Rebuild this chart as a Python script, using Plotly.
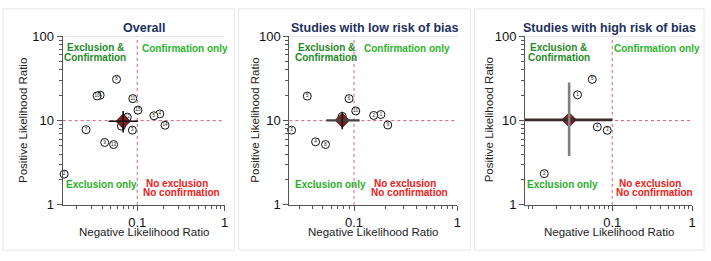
import plotly.graph_objects as go
import math

W, H = 711, 261

# ---------------- data ----------------
overall_labels = [str(i) for i in range(1, 16)]
overall_nlr = [0.0377, 0.0146, 0.088, 0.181, 0.155, 0.066, 0.026, 0.058, 0.0425, 0.0348, 0.089, 0.077, 0.0537, 0.208, 0.102]
overall_plr = [20.0, 2.32, 7.7, 12.0, 11.4, 8.6, 7.8, 30.8, 5.5, 19.6, 18.2, 11.0, 5.2, 8.8, 13.3]

low_labels = [str(i) for i in range(1, 11)]
low_nlr = [0.182, 0.155, 0.0249, 0.0425, 0.0353, 0.0895, 0.077, 0.053, 0.212, 0.104]
low_plr = [11.8, 11.5, 7.7, 5.6, 19.5, 18.2, 11.2, 5.2, 8.86, 13.0]

high_labels = [str(i) for i in range(1, 6)]
high_nlr = [0.0368, 0.0141, 0.0866, 0.065, 0.0562]
high_plr = [20.2, 2.35, 7.67, 8.4, 30.8]

# pooled summary points and confidence intervals
summary_nlr = [0.069, 0.077, 0.0289]
summary_plr = [9.8, 10.07, 10.2]
summary_nlr_ci = [[0.047, 0.102], [0.054, 0.1135], [0.006, 0.1]]
summary_plr_ci = [[7.2, 13.0], [7.9, 12.7], [3.8, 28.2]]

panel_titles = ["Overall", "Studies with low risk of bias", "Studies with high risk of bias"]
nlr_threshold = 0.1
plr_threshold = 10
x_tick_vals = [0.1, 1]
x_tick_text = ["0.1", "1"]
y_tick_vals = [1, 10, 100]
y_tick_text = ["1", "10", "100"]

# ---------------- layout geometry (pixels) ----------------
def px(x):
    return x / W

def py(y):
    return 1 - y / H

panel_geo = [
    dict(x0=63, x1=226, xmin=0.01405, box=(3, 236), title_x=145, yt_x=23,
         ec_x=96, co_x=186, eo_x=102, ne_x=178.5, nc_x=183),
    dict(x0=291, x1=460, xmin=0.0237, box=(240, 473), title_x=377, yt_x=257,
         ec_x=328, co_x=409.7, eo_x=332.5, ne_x=407, nc_x=411.7),
    dict(x0=528, x1=696, xmin=0.0081, box=(477, 708), title_x=612.7, yt_x=492,
         ec_x=562, co_x=661, eo_x=566, ne_x=654, nc_x=658),
]
Y_TOP, Y_BOT = 31, 210

studies = [
    (overall_labels, overall_nlr, overall_plr),
    (low_labels, low_nlr, low_plr),
    (high_labels, high_nlr, high_plr),
]

hci_colors = ["#111111", "#444444", "#3b2828"]
vci_colors = ["#111111", "#151515", "#808080"]
hci_widths = [1.6, 2.2, 2.6]
vci_widths = [1.6, 1.6, 2.6]

FONT = "Arial, Liberation Sans, Helvetica, sans-serif"
ref_color = "#d4607a"

fig = go.Figure()
layout_axes = {}
annotations = []
shapes = []

x_minor = [k * 10 ** e for e in (-3, -2, -1) for k in range(2, 10)] + [0.01]
y_minor = [k * 10 ** e for e in (0, 1) for k in range(2, 10)]

for i in range(3):
    g = panel_geo[i]
    sfx = "" if i == 0 else str(i + 1)
    xa, ya = "x" + sfx, "y" + sfx
    labels, nlr, plr = studies[i]

    # reference lines
    fig.add_trace(go.Scatter(x=[nlr_threshold, nlr_threshold], y=[1, 100], mode="lines",
                             line=dict(color=ref_color, width=1, dash="dot"),
                             xaxis=xa, yaxis=ya, showlegend=False, hoverinfo="skip"))
    fig.add_trace(go.Scatter(x=[g["xmin"], 1], y=[plr_threshold, plr_threshold], mode="lines",
                             line=dict(color=ref_color, width=1, dash="dot"),
                             xaxis=xa, yaxis=ya, showlegend=False, hoverinfo="skip"))
    # individual studies
    fig.add_trace(go.Scatter(x=nlr, y=plr, mode="markers+text", text=labels,
                             textposition="middle center",
                             textfont=dict(size=4.5, color="#111111", family=FONT),
                             marker=dict(size=8, color="white", line=dict(color="#111111", width=1)),
                             xaxis=xa, yaxis=ya, showlegend=False, cliponaxis=False))
    # pooled diamond
    fig.add_trace(go.Scatter(x=[summary_nlr[i]], y=[summary_plr[i]], mode="markers",
                             marker=dict(symbol="diamond", size=11, color="#7e2226",
                                         line=dict(color="#5a1417", width=1)),
                             xaxis=xa, yaxis=ya, showlegend=False))
    # confidence intervals
    fig.add_trace(go.Scatter(x=summary_nlr_ci[i], y=[summary_plr[i]] * 2, mode="lines",
                             line=dict(color=hci_colors[i], width=hci_widths[i]),
                             xaxis=xa, yaxis=ya, showlegend=False))
    fig.add_trace(go.Scatter(x=[summary_nlr[i]] * 2, y=summary_plr_ci[i], mode="lines",
                             line=dict(color=vci_colors[i], width=vci_widths[i]),
                             xaxis=xa, yaxis=ya, showlegend=False))

    layout_axes["xaxis" + sfx] = dict(
        type="log", range=[math.log10(g["xmin"]), 0],
        domain=[px(g["x0"]), px(g["x1"])], anchor=ya,
        showgrid=False, zeroline=False, showline=True, linecolor="#555555", linewidth=1,
        ticks="outside", ticklen=5, tickcolor="#555555", tickwidth=1,
        tickvals=x_tick_vals, ticktext=x_tick_text,
        tickfont=dict(family=FONT, size=13, color="#111111"),
        minor=dict(ticks="outside", ticklen=3, tickcolor="#555555", tickwidth=1,
                   tickvals=x_minor, showgrid=False),
    )
    layout_axes["yaxis" + sfx] = dict(
        type="log", range=[0, 2],
        domain=[py(Y_BOT), py(Y_TOP)], anchor=xa,
        showgrid=False, zeroline=False, showline=True, linecolor="#555555", linewidth=1,
        ticks="outside", ticklen=5, tickcolor="#555555", tickwidth=1,
        tickvals=y_tick_vals, ticktext=y_tick_text,
        tickfont=dict(family=FONT, size=13, color="#111111"),
        minor=dict(ticks="outside", ticklen=3, tickcolor="#555555", tickwidth=1,
                   tickvals=y_minor, showgrid=False),
    )

    # panel frame and faint top line
    shapes.append(dict(type="rect", xref="paper", yref="paper",
                       x0=px(g["box"][0]), x1=px(g["box"][1]), y0=py(258), y1=py(2),
                       line=dict(color="#e6e6e6", width=1), layer="below"))
    shapes.append(dict(type="line", xref=xa + " domain", yref=ya + " domain",
                       x0=0, x1=1, y0=1, y1=1, line=dict(color="#e2e2e2", width=1), layer="below"))

    # titles
    annotations.append(dict(text="<b>" + panel_titles[i] + "</b>", xref="paper", yref="paper",
                            x=px(g["title_x"]), y=py(22.5), xanchor="center", yanchor="middle",
                            showarrow=False, font=dict(family=FONT, size=12.5, color="#22305e")))
    annotations.append(dict(text="Negative Likelihood Ratio", xref="paper", yref="paper",
                            x=px((g["x0"] + g["x1"]) / 2), y=py(238.5), xanchor="center",
                            yanchor="middle", showarrow=False,
                            font=dict(family=FONT, size=11.5, color="#222222")))
    annotations.append(dict(text="Positive Likelihood Ratio", xref="paper", yref="paper",
                            x=px(g["yt_x"]), y=py(120), xanchor="center", yanchor="middle",
                            textangle=-90, showarrow=False,
                            font=dict(family=FONT, size=11.5, color="#222222")))
    # quadrant labels
    qfont = lambda c: dict(family=FONT, size=10, color=c)
    for txt, cx, cy, col in [
        ("Exclusion &", g["ec_x"], 43.3, "#1f8a26"),
        ("Confirmation", g["ec_x"], 53.3, "#1f8a26"),
        ("Confirmation only", g["co_x"], 44.5, "#2cb52c"),
        ("Exclusion only", g["eo_x"], 188, "#2aae2a"),
        ("No exclusion", g["ne_x"], 186.8, "#ee2020"),
        ("No confirmation", g["nc_x"], 197.3, "#ee2020"),
    ]:
        annotations.append(dict(text="<b>" + txt + "</b>", xref="paper", yref="paper",
                                x=px(cx), y=py(cy), xanchor="center", yanchor="middle",
                                showarrow=False, font=qfont(col)))

fig.update_layout(
    width=W, height=H, autosize=False,
    margin=dict(l=0, r=0, t=0, b=0, pad=0),
    paper_bgcolor="white", plot_bgcolor="white",
    showlegend=False,
    annotations=annotations, shapes=shapes,
    **layout_axes,
)

fig.write_html(
    "out.html",
    config={"responsive": False, "displayModeBar": False},
    post_script=("document.documentElement.style.margin='0';document.body.style.margin='0';"
                 "document.body.style.padding='0';document.body.style.overflow='hidden';"),
)
